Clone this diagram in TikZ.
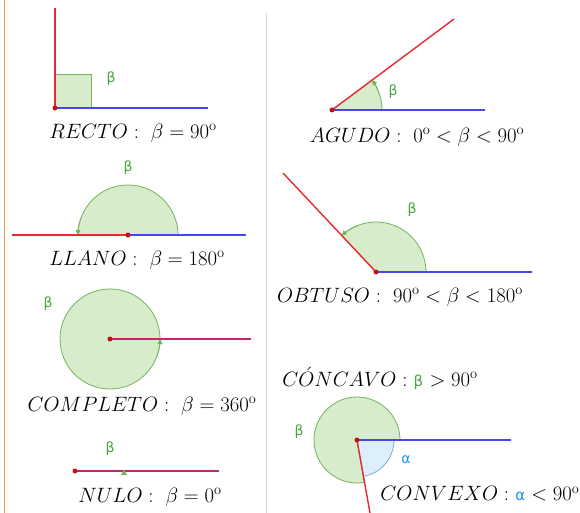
\documentclass[tikz,border=0pt]{standalone}
\usepackage{fontspec}
\newfontfamily\gsans{DejaVu Sans}
\usetikzlibrary{arrows.meta}
\definecolor{gfill}{RGB}{214,236,202}
\definecolor{gline}{RGB}{118,178,96}
\definecolor{glabel}{RGB}{70,165,60}
\definecolor{bfill}{RGB}{222,239,252}
\definecolor{bline}{RGB}{120,172,232}
\definecolor{alabel}{RGB}{30,150,240}
\definecolor{rayblue}{RGB}{72,72,230}
\definecolor{rayred}{RGB}{232,40,50}
\definecolor{raymix}{RGB}{190,40,110}
\definecolor{dotc}{RGB}{190,20,20}
\definecolor{orangec}{RGB}{245,150,70}
\definecolor{sepc}{RGB}{215,215,215}
\begin{document}
\begin{tikzpicture}[x=1pt,y=1pt,
  ray/.style={line width=1.4pt},
  redray/.style={ray, draw=rayred},
  blueray/.style={ray, draw=rayblue},
  mixray/.style={ray, draw=raymix},
  sector/.style={fill=gfill, draw=gline, line width=0.8pt},
  bsector/.style={fill=bfill, draw=bline, line width=0.8pt},
  vtx/.style={circle, fill=dotc, inner sep=0pt, minimum size=5pt},
  blab/.style={text=glabel, font=\gsans\fontsize{14}{14}\selectfont, inner sep=0pt},
  alab/.style={text=alabel, font=\gsans\fontsize{14}{14}\selectfont, inner sep=0pt},
  captxt/.style={font=\fontsize{20.5}{22}\selectfont, inner sep=0pt},
  tipc/.style={draw=gline, line width=0.8pt, -{Triangle[length=5pt,width=5pt]}}
]
\useasboundingbox (0,0) rectangle (580,-513);
\fill[white] (0,0) rectangle (580,-513);
\draw[orangec, line width=1.5pt] (4.5,0) -- (4.5,-513);
\draw[sepc, line width=1pt] (266,-13) -- (266,-513);

% RECTO
\coordinate (rV) at (55,-108);
\coordinate (rR) at (55,-8);
\coordinate (rB) at (208,-108);
\draw[sector] (rV) rectangle ++(36,34);
\draw[blueray] (rV) -- (rB);
\draw[redray] (rV) -- (rR);
\node[vtx] (rD) at (rV) {};
\node[blab] (rb) at (111,-79) {β};
\node[captxt] (rt) at (133,-133) {$RECTO:\ \beta=90^{\mathrm{o}}$};

% AGUDO
\coordinate (aV) at (332,-110);
\coordinate (aB) at (485,-110);
\coordinate (aR) at (454,-19);
\draw[sector] (aV) -- ++(0:50) arc (0:36.7:50) -- cycle;
\draw[blueray] (aV) -- (aB);
\draw[redray] (aV) -- (aR);
\draw[tipc] (aV) ++(20:50) arc (20:36.7:50);
\node[vtx] (aD) at (aV) {};
\node[blab] (ab) at (393,-92) {β};
\node[captxt] (at) at (417,-137) {$AGUDO:\ 0^{\mathrm{o}}<\beta<90^{\mathrm{o}}$};

% LLANO
\coordinate (lV) at (128,-235);
\coordinate (lR) at (12,-235);
\coordinate (lB) at (246,-235);
\draw[sector] (lV) -- ++(0:50) arc (0:180:50) -- cycle;
\draw[blueray] (lV) -- (lB);
\draw[redray] (lV) -- (lR);
\draw[tipc] (lV) ++(160:50) arc (160:180:50);
\node[vtx] (lD) at (lV) {};
\node[blab] (lb) at (128,-168) {β};
\node[captxt] (lt) at (137,-260) {$LLANO:\ \beta=180^{\mathrm{o}}$};

% OBTUSO
\coordinate (oV) at (376,-272);
\coordinate (oB) at (532,-272);
\coordinate (oR) at (283,-173);
\draw[sector] (oV) -- ++(0:50) arc (0:133.2:50) -- cycle;
\draw[blueray] (oV) -- (oB);
\draw[redray] (oV) -- (oR);
\draw[tipc] (oV) ++(110:50) arc (110:133.2:50);
\node[vtx] (oD) at (oV) {};
\node[blab] (ob) at (412,-210) {β};
\node[captxt] (ot) at (400,-297) {$OBTUSO:\ 90^{\mathrm{o}}<\beta<180^{\mathrm{o}}$};

% COMPLETO
\coordinate (cV) at (110,-339);
\coordinate (cE) at (251,-339);
\draw[sector] (cV) circle (50);
\draw[mixray] (cV) -- (cE);
\draw[tipc] (cV) ++(-20:50) arc (-20:0:50);
\node[vtx] (cD) at (cV) {};
\node[blab] (cb) at (48,-304) {β};
\node[captxt] (ct) at (142,-406) {$COMPLETO:\ \beta=360^{\mathrm{o}}$};

% NULO
\coordinate (nV) at (75,-471);
\coordinate (nE) at (219,-471);
\draw[mixray] (nV) -- (nE);
\fill[gline] (121,-475) -- (127,-475) -- (124,-469) -- cycle;
\node[vtx] (nD) at (nV) {};
\node[blab] (nb) at (110,-449) {β};
\node[captxt] (nt) at (150,-497) {$NULO:\ \beta=0^{\mathrm{o}}$};

% CONCAVO / CONVEXO
\coordinate (kV) at (357,-440);
\coordinate (kB) at (511,-440);
\coordinate (kR) at (370,-513);
\draw[sector] (kV) -- ++(0:43) arc (0:280:43) -- cycle;
\draw[bsector] (kV) -- ++(-80:37) arc (-80:0:37) -- cycle;
\draw[blueray] (kV) -- (kB);
\draw[redray] (kV) -- (kR);
\node[vtx] (kD) at (kV) {};
\node[blab] (kb) at (299,-432) {β};
\node[alab] (ka) at (406,-460) {α};
\node[captxt] (kt) at (380,-378) {$C\acute{O}NCAVO:\ ${\color{glabel}\gsans\fontsize{15}{15}\selectfont β}$\ >90^{\mathrm{o}}$};
\node[captxt] (kx) at (480,-494) {$CONVEXO:\ ${\color{alabel}\gsans\fontsize{15}{15}\selectfont α}$\ <90^{\mathrm{o}}$};
\end{tikzpicture}
\end{document}
